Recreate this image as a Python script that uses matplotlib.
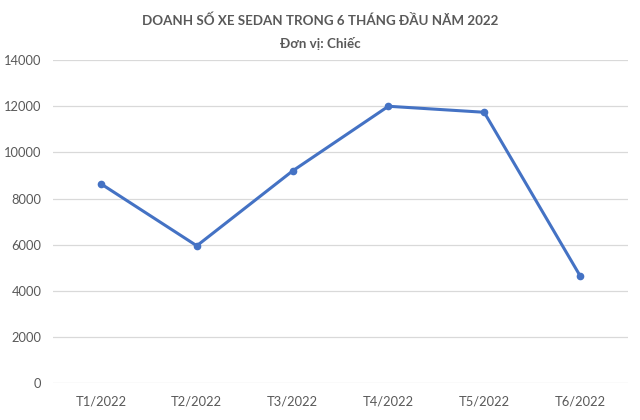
import matplotlib.pyplot as plt
import numpy as np

# sales of sedan cars, first 6 months of 2022
months = ['T1/2022', 'T2/2022', 'T3/2022', 'T4/2022', 'T5/2022', 'T6/2022']
sales = [8640, 5960, 9200, 12000, 11740, 4670]
y_ticks = [0, 2000, 4000, 6000, 8000, 10000, 12000, 14000]

title = 'DOANH SỐ XE SEDAN TRONG 6 THÁNG ĐẦU NĂM 2022'
subtitle = 'Đơn vị: Chiếc'

plt.rcParams['font.family'] = ['Lato', 'DejaVu Sans']
grey = '#595959'

fig = plt.figure(figsize=(6.4, 4.2), dpi=100)
ax = fig.add_axes([0.083, 0.087, 0.898, 0.77])

x = np.arange(len(months))
ax.plot(x, sales, color='#4472C4', linewidth=2.2, marker='o', markersize=4.5)

ax.set_xlim(-0.5, len(months) - 0.5)
ax.set_ylim(0, 14000)
ax.set_yticks(y_ticks)
ax.set_yticklabels([str(v) for v in y_ticks])
ax.set_xticks(x)
ax.set_xticklabels(months)
ax.tick_params(axis='both', length=0, labelsize=9.3, labelcolor=grey)
ax.tick_params(axis='y', pad=8.5)
ax.tick_params(axis='x', pad=9)

ax.grid(axis='y', color='#D9D9D9', linewidth=0.9)
ax.set_axisbelow(True)
for s in ax.spines.values():
    s.set_visible(False)

fig.text(0.5, 0.951, title, ha='center', va='center', fontsize=9.6,
         fontweight='bold', color=grey)
fig.text(0.5, 0.897, subtitle, ha='center', va='center', fontsize=9.6,
         fontweight='bold', color=grey)

plt.savefig('out.png', dpi=100)
